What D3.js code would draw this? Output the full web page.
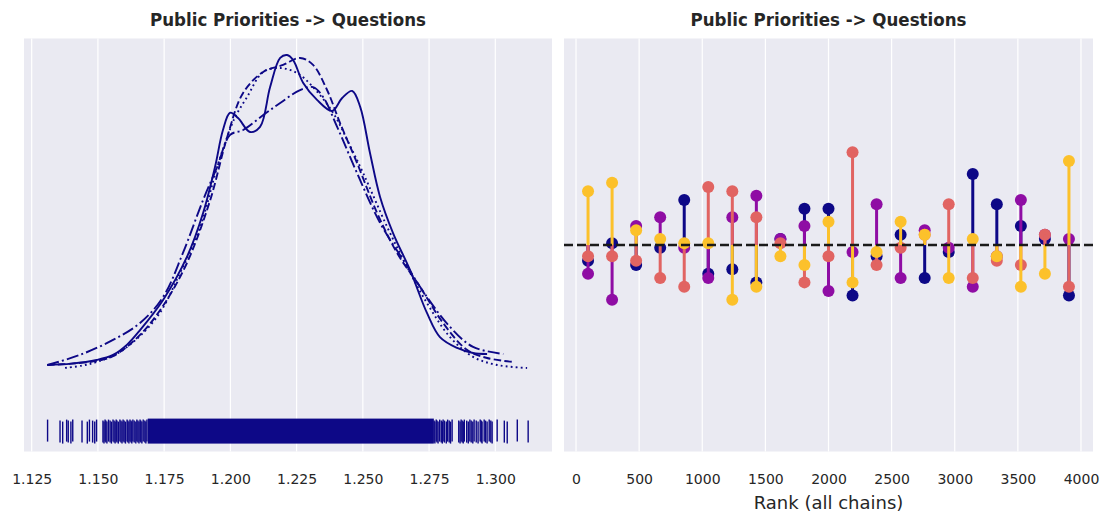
<!DOCTYPE html>
<html>
<head>
<meta charset="utf-8">
<script src="https://cdn.jsdelivr.net/npm/d3@7"></script>
<style>
  body { margin: 0; background: #fff; }
  text { font-family: "DejaVu Sans", sans-serif; fill: #262626; }
  .title { font-family: "DejaVu Sans Condensed", "DejaVu Sans", sans-serif; font-stretch: condensed; font-weight: bold; }
</style>
</head>
<body>
<div id="chart"></div>
<script>
// trace plot: KDE per chain (left) + rank vlines (right)

const title = 'Public Priorities -> Questions';

// KDE di ogni catena [valore, densita]
const kdeChain0 = [[1.1309,0.15],[1.1400,0.22],[1.1495,0.41],[1.1557,0.67],[1.1610,1.20],[1.1659,1.95],[1.1746,3.50],[1.1836,5.71],[1.1897,7.97],[1.1942,10.34],[1.1972,12.24],[1.1999,13.13],[1.2029,12.86],[1.2074,12.14],[1.2112,12.40],[1.2150,14.45],[1.2188,15.95],[1.2214,16.10],[1.2237,15.84],[1.2275,14.66],[1.2327,13.79],[1.2384,13.22],[1.2422,13.89],[1.2460,14.25],[1.2490,13.43],[1.2527,11.06],[1.2565,8.80],[1.2614,6.94],[1.2678,5.04],[1.2742,2.83],[1.2791,1.59],[1.2856,1.03],[1.2916,0.77],[1.2969,0.72]];
const kdeChain1 = [[1.1309,0.15],[1.1400,0.22],[1.1495,0.36],[1.1557,0.60],[1.1659,1.70],[1.1746,3.20],[1.1836,5.40],[1.1923,8.60],[1.1988,11.88],[1.2048,14.15],[1.2124,15.23],[1.2199,15.59],[1.2263,15.95],[1.2312,15.59],[1.2365,14.30],[1.2414,12.60],[1.2478,10.55],[1.2554,7.97],[1.2629,5.92],[1.2716,4.17],[1.2803,2.31],[1.2893,0.93],[1.2969,0.51],[1.3067,0.31]];
const kdeChain2 = [[1.1376,0.00],[1.1440,0.12],[1.1497,0.31],[1.1595,0.93],[1.1723,2.62],[1.1810,4.89],[1.1886,7.25],[1.1950,10.34],[1.1988,11.88],[1.2018,12.91],[1.2063,13.94],[1.2124,15.23],[1.2188,15.43],[1.2252,15.17],[1.2312,14.45],[1.2388,13.12],[1.2441,11.73],[1.2501,10.03],[1.2592,7.25],[1.2667,5.20],[1.2742,3.34],[1.2829,1.59],[1.2916,0.57],[1.3007,0.15],[1.3120,0.00]];
const kdeChain3 = [[1.1309,0.15],[1.1432,0.67],[1.1557,1.44],[1.1659,2.31],[1.1746,3.65],[1.1821,5.92],[1.1897,8.64],[1.1950,10.34],[1.1999,11.99],[1.2048,12.24],[1.2124,13.01],[1.2188,13.63],[1.2263,14.30],[1.2312,14.45],[1.2350,13.94],[1.2403,12.40],[1.2478,10.03],[1.2565,7.46],[1.2652,5.56],[1.2742,3.65],[1.2829,2.11],[1.2916,1.08],[1.3030,0.72]];

// rug: tratti singoli nelle code + fascia densa al centro
const rugTicks = [1.1310,1.1357,1.1367,1.1382,1.1388,1.1398,1.1405,1.1440,1.1460,1.1468,1.1480,1.1488,1.1495,
  1.1519,1.1523,1.1527,1.1530,1.1534,1.1540,1.1546,1.1551,1.1557,1.1561,1.1565,1.1569,1.1572,1.1577,1.1583,1.1587,1.1591,1.1595,1.1599,
  1.1604,1.1610,1.1613,1.1617,1.1621,1.1625,1.1628,1.1632,1.1637,1.1643,1.1647,1.1651,1.1655,1.1659,1.1662,1.1666,1.1671,1.1677,1.1681,1.1685,
  1.2769,1.2772,1.2777,1.2780,1.2784,1.2790,1.2796,1.2800,1.2803,1.2808,1.2815,1.2820,1.2826,1.2831,1.2837,
  1.2862,1.2867,1.2871,1.2875,1.2879,1.2883,1.2892,1.2898,1.2904,1.2909,1.2915,1.2920,1.2928,1.2935,1.2943,1.2947,1.2950,1.2958,1.2963,1.2969,1.2977,1.2983,1.2988,
  1.3007,1.3034,1.3045,1.3083,1.3124];
const rugBand = [1.1688, 1.2768];
const rugLevel = -3.25;

const kdeTicks = [1.125, 1.150, 1.175, 1.200, 1.225, 1.250, 1.275, 1.300];

// rank plot: conteggi per bin (21 bin, 4 catene)
const nRanks = 4000;
const nBins = 21;
const countsChain0 = [44,48,43,47,58,41,42,39,49,56,56,36,45,50,40,46,64,57,52,49,36];
const countsChain1 = [41,35,52,54,47,40,54,59,49,52,37,46,57,40,51,47,38,45,58,50,49];
const countsChain2 = [45,45,44,40,38,61,60,54,48,39,45,69,43,47,50,57,40,44,43,50,38];
const countsChain3 = [60,62,51,49,48,48,35,38,45,43,53,39,46,53,50,40,49,45,38,41,67];
const rankTicks = [0, 500, 1000, 1500, 2000, 2500, 3000, 3500, 4000];

const chainColors = ['#0d0887', '#8f0da4', '#e16462', '#fcc12b'];
const kdeColor = '#0d0887';
const kdeDash = [null, '7.4,3.2', '1.8,3.2', '12,3.2,2,3.2'];

const W = 1105, H = 517;
const plotTop = 38.5, plotBottom = 451.5;
const bg = '#eaeaf2';

const svg = d3.select('#chart').append('svg')
  .attr('width', W).attr('height', H);

// ---------- pannello sinistro ----------
const xL = d3.scaleLinear().domain([1.1221, 1.3214]).range([24, 552]);
const yL = d3.scaleLinear().domain([-4.30, 16.95]).range([plotBottom, plotTop]);

const gL = svg.append('g');
gL.append('rect')
  .attr('x', xL.range()[0]).attr('y', plotTop)
  .attr('width', xL.range()[1] - xL.range()[0]).attr('height', plotBottom - plotTop)
  .attr('fill', bg);

gL.selectAll('.grid').data(kdeTicks).join('line')
  .attr('x1', d => xL(d)).attr('x2', d => xL(d))
  .attr('y1', plotTop).attr('y2', plotBottom)
  .attr('stroke', '#fff').attr('stroke-width', 1.2);

const line = d3.line()
  .x(d => xL(d[0])).y(d => yL(d[1]))
  .curve(d3.curveCatmullRom.alpha(0.5));

[kdeChain0, kdeChain1, kdeChain2, kdeChain3].forEach((kde, i) => {
  gL.append('path')
    .datum(kde)
    .attr('d', line)
    .attr('fill', 'none')
    .attr('stroke', kdeColor)
    .attr('stroke-width', 1.9)
    .attr('stroke-dasharray', kdeDash[i]);
});

// rug
const rugY = yL(rugLevel);
gL.append('rect')
  .attr('x', xL(rugBand[0])).attr('width', xL(rugBand[1]) - xL(rugBand[0]))
  .attr('y', rugY - 12.5).attr('height', 25)
  .attr('fill', kdeColor);
gL.selectAll('.rug').data(rugTicks).join('line')
  .attr('x1', d => xL(d)).attr('x2', d => xL(d))
  .attr('y1', (d, i) => rugY - 11.5 + (i % 3)).attr('y2', (d, i) => rugY + 10.5 + (i % 3))
  .attr('stroke', kdeColor).attr('stroke-width', 1.4);

const axL = gL.append('g')
  .attr('transform', `translate(0,${plotBottom})`)
  .call(d3.axisBottom(xL).tickValues(kdeTicks).tickFormat(d3.format('.3f'))
    .tickSize(0).tickPadding(23));
axL.select('.domain').remove();
axL.selectAll('text').attr('font-size', 14).attr('font-family', 'DejaVu Sans').attr('fill', '#333');

gL.append('text')
  .attr('class', 'title')
  .attr('x', (xL.range()[0] + xL.range()[1]) / 2).attr('y', 26)
  .attr('text-anchor', 'middle').attr('font-size', 18.5)
  .text(title);

// ---------- pannello destro ----------
const binW = nRanks / nBins;
const binCenters = d3.range(nBins).map(i => (i + 0.5) * binW);
const meanCount = nRanks / (nBins * 4);

const xR = d3.scaleLinear().domain([-binCenters[0], nRanks + binCenters[0]]).range([564, 1093]);
const yR = d3.scaleLinear().domain([0, meanCount * 2]).range([plotBottom, plotTop]);

const gR = svg.append('g');
gR.append('rect')
  .attr('x', xR.range()[0]).attr('y', plotTop)
  .attr('width', xR.range()[1] - xR.range()[0]).attr('height', plotBottom - plotTop)
  .attr('fill', bg);

gR.selectAll('.grid').data(rankTicks).join('line')
  .attr('x1', d => xR(d)).attr('x2', d => xR(d))
  .attr('y1', plotTop).attr('y2', plotBottom)
  .attr('stroke', '#fff').attr('stroke-width', 1.2);

[countsChain0, countsChain1, countsChain2, countsChain3].forEach((counts, c) => {
  const pts = counts.map((v, i) => ({ x: binCenters[i], v }));
  const g = gR.append('g');
  g.selectAll('circle').data(pts).join('circle')
    .attr('cx', d => xR(d.x)).attr('cy', d => yR(d.v))
    .attr('r', 6).attr('fill', chainColors[c]);
  g.selectAll('line').data(pts).join('line')
    .attr('x1', d => xR(d.x)).attr('x2', d => xR(d.x))
    .attr('y1', yR(meanCount)).attr('y2', d => yR(d.v))
    .attr('stroke', chainColors[c]).attr('stroke-width', 3);
});

gR.append('line')
  .attr('x1', xR.range()[0]).attr('x2', xR.range()[1])
  .attr('y1', yR(meanCount)).attr('y2', yR(meanCount))
  .attr('stroke', '#1a1a1a').attr('stroke-width', 2.4)
  .attr('stroke-dasharray', '9,4');

const axR = gR.append('g')
  .attr('transform', `translate(0,${plotBottom})`)
  .call(d3.axisBottom(xR).tickValues(rankTicks).tickFormat(d3.format('d'))
    .tickSize(0).tickPadding(23));
axR.select('.domain').remove();
axR.selectAll('text').attr('font-size', 14).attr('font-family', 'DejaVu Sans').attr('fill', '#333');

gR.append('text')
  .attr('x', (xR.range()[0] + xR.range()[1]) / 2).attr('y', 509)
  .attr('text-anchor', 'middle').attr('font-size', 18)
  .attr('fill', '#333')
  .text('Rank (all chains)');

gR.append('text')
  .attr('class', 'title')
  .attr('x', (xR.range()[0] + xR.range()[1]) / 2).attr('y', 26)
  .attr('text-anchor', 'middle').attr('font-size', 18.5)
  .text(title);
</script>
</body>
</html>
